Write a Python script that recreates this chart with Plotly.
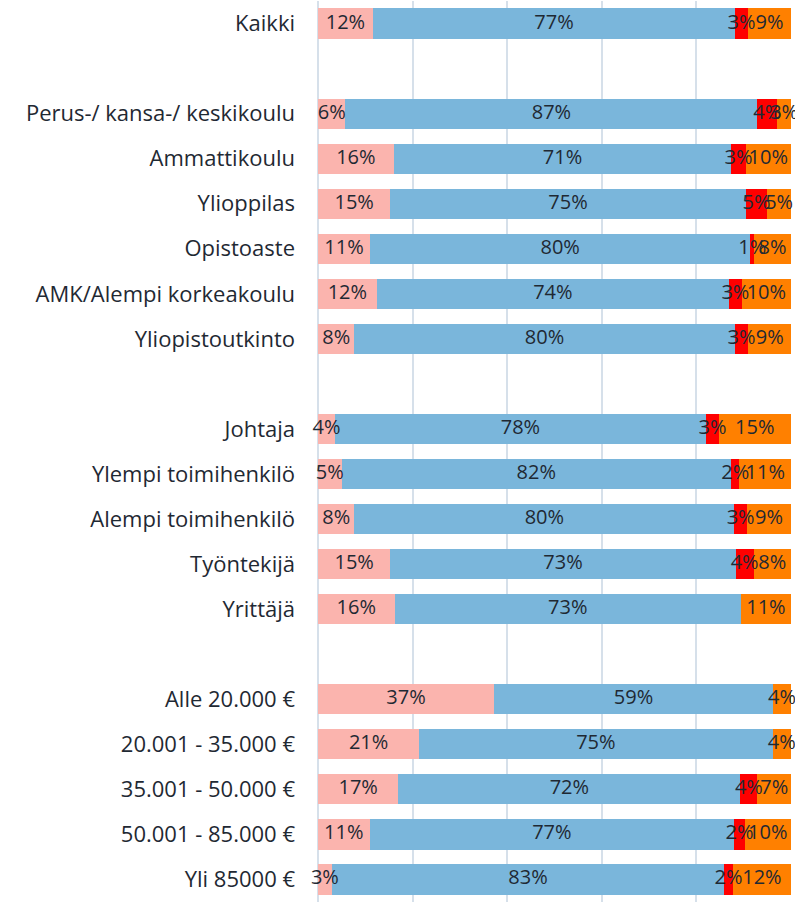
import plotly.graph_objects as go

categories = [
    "Kaikki", " ",
    "Perus-/ kansa-/ keskikoulu", "Ammattikoulu", "Ylioppilas", "Opistoaste",
    "AMK/Alempi korkeakoulu", "Yliopistoutkinto", "  ",
    "Johtaja", "Ylempi toimihenkilö", "Alempi toimihenkilö", "Työntekijä", "Yrittäjä", "   ",
    "Alle 20.000 €", "20.001 - 35.000 €", "35.001 - 50.000 €", "50.001 - 85.000 €", "Yli 85000 €",
]

s1 = [11.6, None, 5.8, 16.0, 15.3, 11.0, 12.4, 7.7, None, 3.6, 5.0, 7.7, 15.3, 16.2, None, 37.2, 21.4, 17.0, 10.9, 2.9]
s2 = [76.6, None, 87.1, 71.4, 75.1, 80.4, 74.5, 80.4, None, 78.4, 82.3, 80.3, 73.0, 73.2, None, 59.0, 74.7, 72.3, 77.1, 83.0]
s3 = [2.7, None, 4.2, 3.0, 4.6, 0.8, 2.7, 2.9, None, 2.8, 1.8, 2.7, 3.8, 0.0, None, 0.0, 0.0, 3.6, 2.2, 1.8]
s4 = [9.1, None, 2.9, 9.6, 5.0, 7.8, 10.4, 9.0, None, 15.1, 10.9, 9.3, 7.9, 10.6, None, 3.8, 3.9, 7.1, 9.8, 12.3]

series = [s1, s2, s3, s4]
colors = ["#FBB4AE", "#7AB6DB", "#FF0000", "#FF8000"]
names = ["A", "B", "C", "D"]
TXT = "#1F2933"

fig = go.Figure()
for vals, col, nm in zip(series, colors, names):
    fig.add_trace(go.Bar(
        y=categories, x=vals, orientation="h", name=nm,
        marker=dict(color=col, line=dict(width=0)),
        hoverinfo="skip",
    ))

# labels on top of all bars, centred on each segment
tx, ty, tt = [], [], []
for i, cat in enumerate(categories):
    start = 0.0
    for vals in series:
        v = vals[i]
        if v is None:
            continue
        if v > 0:
            tx.append(start + v / 2)
            ty.append(cat)
            tt.append(f"{round(v)}%")
        start += v
fig.add_trace(go.Scatter(
    x=tx, y=ty, text=tt, mode="text", textposition="middle center",
    textfont=dict(family="Open Sans", size=20, color=TXT),
    hoverinfo="skip", cliponaxis=False,
))

fig.update_layout(
    width=795, height=908, barmode="stack", bargap=0.33,
    margin=dict(l=318, r=4, t=1, b=6),
    showlegend=False, plot_bgcolor="white", paper_bgcolor="white",
    font=dict(family="Open Sans", size=19, color=TXT),
)
fig.update_xaxes(range=[0, 100], dtick=20, showticklabels=False,
                 showgrid=True, gridcolor="#D6E0EA", gridwidth=1.5,
                 zeroline=True, zerolinecolor="#D6E0EA", zerolinewidth=1.5,
                 fixedrange=True)
fig.update_yaxes(categoryorder="array", categoryarray=categories,
                 range=[len(categories) - 0.5, -0.5],
                 ticklabelstandoff=22, showgrid=False, automargin=False, fixedrange=True,
                 tickfont=dict(family="Open Sans", size=22, color=TXT))

fig.write_html("out.html", config={"displayModeBar": False},
               post_script="document.body.style.margin='0';document.body.style.padding='0';")
